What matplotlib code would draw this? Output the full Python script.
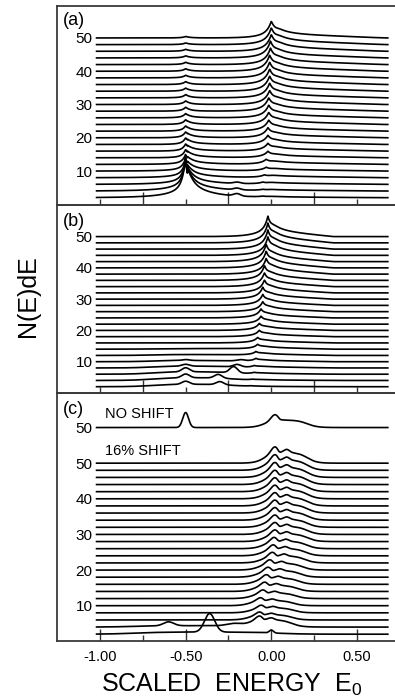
import numpy as np
import matplotlib
matplotlib.use("Agg")
import matplotlib.pyplot as plt

plt.rcParams['font.family'] = ['Liberation Sans', 'DejaVu Sans']
plt.rcParams['mathtext.fontset'] = 'custom'
plt.rcParams['mathtext.rm'] = 'Liberation Sans'
plt.rcParams['mathtext.it'] = 'Liberation Sans'
plt.rcParams['mathtext.default'] = 'regular'

# curve offsets (same for every panel), tick labels
offsets = list(range(2, 52, 2))
ytick_vals = [10, 20, 30, 40, 50]
xtick_vals = [-1.0, -0.5, 0.0, 0.5]
xtick_labels = ["-1.00", "-0.50", "0.00", "0.50"]
x_range = (-1.02, 0.68)

# ---- panel (a): peak near 0 grows, peak at -0.5 shrinks ----
a_zero_amp = [0.3, 0.4, 0.6, 0.8, 1.1, 1.5, 1.9, 2.3, 2.7, 3.0, 3.3, 3.6, 3.8,
              4.0, 4.2, 4.4, 4.5, 4.6, 4.7, 4.8, 4.9, 5.0, 5.0, 5.0, 5.0]
a_zero_pos = [-0.05, -0.05, -0.05, -0.04, -0.03, -0.03, -0.02, -0.02, -0.02, -0.02,
              -0.015, -0.015, -0.015, -0.015, -0.01, -0.01, -0.01, -0.01, -0.01,
              -0.01, -0.005, -0.005, 0.0, 0.0, 0.0]
a_shoulder = [0.2, 0.3, 0.4, 0.5, 0.5, 0.6, 0.6, 0.7, 0.7, 0.8, 0.8, 0.9, 0.9,
              1.0, 1.0, 1.0, 1.1, 1.1, 1.1, 1.2, 1.2, 1.2, 1.3, 1.3, 1.3]
a_half_amp = [10.5, 8.5, 6.5, 4.8, 3.6, 2.9, 2.5, 2.2, 2.0, 1.8, 1.6, 1.45, 1.3,
              1.2, 1.1, 1.0, 0.95, 0.9, 0.8, 0.75, 0.7, 0.65, 0.6, 0.5, 0.45]
a_tail_amp = [3.5, 2.5, 1.8, 1.3, 1.0, 0.8, 0.6, 0.5, 0.4, 0.3, 0.2, 0.15, 0.1,
              0, 0, 0, 0, 0, 0, 0, 0, 0, 0, 0, 0]
a_left_amp = [2.0, 1.5, 1.0, 0.6, 0.4, 0.2] + [0] * 19
a_bump_amp = [0.7, 0.5, 0.4] + [0] * 22   # small bump near -0.2

# ---- panel (b): single peak near 0 ----
b_main_amp = [0.2, 0.3, 0.5, 0.7, 1.0, 1.2, 1.5, 1.7, 2.0, 2.2, 2.5, 2.8, 3.1,
              3.4, 3.7, 4.0, 4.3, 4.6, 4.9, 5.2, 5.4, 5.7, 5.9, 6.1, 6.3]
b_main_pos = [-0.12, -0.11, -0.10, -0.10, -0.09, -0.09, -0.08, -0.08, -0.07, -0.07,
              -0.06, -0.06, -0.05, -0.05, -0.05, -0.04, -0.04, -0.04, -0.03, -0.03,
              -0.03, -0.02, -0.02, -0.02, -0.02]
b_shoulder = [0.1, 0.2, 0.3, 0.4, 0.4, 0.5, 0.6, 0.6, 0.7, 0.8, 0.8, 0.9, 1.0,
              1.1, 1.2, 1.3, 1.4, 1.5, 1.6, 1.7, 1.7, 1.8, 1.9, 2.0, 2.0]
b_half_amp = [1.0, 1.2, 1.3, 0.6, 0.3] + [0] * 20
b_bump_pos = [-0.30, -0.31, -0.22, -0.20, -0.18] + [-0.2] * 20
b_bump_amp = [1.0, 1.2, 2.0, 0.8, 0.4] + [0] * 20
b_hump_amp = [0.8, 0.9, 0.8, 0.6, 0.4, 0.3, 0.2] + [0] * 18

# ---- panel (c): 16% shift ----
c_amp = [0.0, 3.0, 2.4, 2.3, 2.4, 2.6, 2.8, 2.9, 3.0, 3.1, 3.2, 3.3, 3.4, 3.5,
         3.6, 3.7, 3.8, 3.9, 4.0, 4.1, 4.2, 4.3, 4.5, 4.7, 4.9]
c_shift = [0.0, -0.09, -0.09, -0.08, -0.085, -0.07, -0.06, -0.05, -0.04, -0.03,
           -0.015, -0.01, -0.005, 0.0, 0.0, 0.0, 0.0, 0.0, 0.0, 0.0, 0.0, 0.0,
           0.0, 0.0, 0.0]
c_side_pos = [-0.36, -0.60]        # extra peaks of the two lowest curves
c_side_amp = [5.2, 1.1]
c_low_amp = [0.6, 0.4]             # broad low hump of the two lowest curves
no_shift_offset = 60
no_shift_half_amp = 4.2
no_shift_amp = 3.85


def cusp(x, x0, wl, wr):
    d = x - x0
    return np.where(d < 0, np.exp(np.minimum(d, 0) / wl), np.exp(-np.maximum(d, 0) / wr))


def gauss(x, x0, s):
    return np.exp(-0.5 * ((x - x0) / s) ** 2)


def sig(z):
    return 1.0 / (1.0 + np.exp(-z))


def plateau(x, a, b, w):
    return sig((x - a) / w) * sig((b - x) / w)


def shoulder(x, start, end):
    lin = np.clip((end - x) / (end - start), 0, 1)
    return lin * sig((x - start) / 0.01)


def c_shape(x, sh):
    return (0.62 * plateau(x, -0.04 + sh, 0.21 + sh, 0.028)
            + 0.38 * gauss(x, 0.02 + sh, 0.022)
            + 0.18 * gauss(x, 0.09 + sh, 0.016)
            - 0.12 * gauss(x, 0.047 + sh, 0.01))


x = np.linspace(x_range[0], x_range[1], 800)

fig = plt.figure(figsize=(3.95, 6.98), dpi=100)
ax_a = fig.add_axes([0.1443, 0.7063, 0.8557, 0.2851])
ax_b = fig.add_axes([0.1443, 0.4370, 0.8557, 0.2693])
ax_c = fig.add_axes([0.1443, 0.0817, 0.8557, 0.3553])

lw = 1.2
col = "black"

# panel (a)
for i, off in enumerate(offsets):
    y = (a_zero_amp[i] * (0.55 * cusp(x, a_zero_pos[i], 0.022, 0.026)
                          + 0.45 * cusp(x, a_zero_pos[i], 0.07, 0.08))
         + a_shoulder[i] * shoulder(x, a_zero_pos[i] + 0.03, 0.66)
         + a_half_amp[i] * (0.7 * cusp(x, -0.5, 0.016, 0.022) + 0.3 * cusp(x, -0.5, 0.05, 0.06))
         + a_tail_amp[i] * np.where(x > -0.49, np.exp(-(x + 0.49) / 0.15), 0) * sig((x + 0.49) / 0.01)
         + a_left_amp[i] * np.where(x < -0.5, np.exp((x + 0.5) / 0.15), 0)
         + a_bump_amp[i] * gauss(x, -0.2, 0.02))
    ax_a.plot(x, off + y, color=col, lw=lw)

# panel (b)
for i, off in enumerate(offsets):
    y = (b_main_amp[i] * (0.5 * cusp(x, b_main_pos[i], 0.018, 0.018)
                          + 0.5 * cusp(x, b_main_pos[i], 0.07, 0.06))
         + b_shoulder[i] * shoulder(x, b_main_pos[i] + 0.02, 0.36)
         + b_half_amp[i] * gauss(x, -0.5, 0.022)
         + b_bump_amp[i] * gauss(x, b_bump_pos[i], 0.022)
         + b_hump_amp[i] * plateau(x, -0.7, -0.22, 0.06))
    ax_b.plot(x, off + y, color=col, lw=lw)

# panel (c)
for i, off in enumerate(offsets):
    y = c_amp[i] * c_shape(x, c_shift[i])
    if i < len(c_side_pos):
        y = y + c_side_amp[i] * gauss(x, c_side_pos[i], 0.03) + c_low_amp[i] * plateau(x, -0.8, 0.03, 0.08)
    if i == 0:
        y = y + 0.8 * gauss(x, 0.0, 0.012)
    if i == 1:
        y = y + 0.6 * gauss(x, -0.22, 0.04)
    ax_c.plot(x, off + y, color=col, lw=lw)

y_ns = no_shift_half_amp * gauss(x, -0.5, 0.017) + no_shift_amp * (
    0.55 * plateau(x, -0.04, 0.21, 0.03) + 0.45 * gauss(x, 0.02, 0.022)
    - 0.08 * gauss(x, 0.05, 0.01))
ax_c.plot(x, no_shift_offset + y_ns, color=col, lw=lw)

ax_c.text(-0.971, 62.65, "NO SHIFT", fontsize=10.5, va="baseline", ha="left")
ax_c.text(-0.971, 52.35, "16% SHIFT", fontsize=10.5, va="baseline", ha="left")

ylims = [(-0.2, 59.6), (0.0, 60.1), (0.1, 69.7)]
panel_tags = ["(a)", "(b)", "(c)"]
tag_y = [0.968, 0.96, 0.967]
for k, ax in enumerate([ax_a, ax_b, ax_c]):
    ax.set_xlim(-1.251, 0.722)
    ax.set_ylim(*ylims[k])
    ax.spines['right'].set_visible(False)
    for s in ['left', 'top', 'bottom']:
        ax.spines[s].set_color('#3a3a3a')
        ax.spines[s].set_linewidth(1.3)
    ax.set_xticks(xtick_vals)
    ax.set_xticks([-0.75, -0.25, 0.25], minor=True)
    if k == 2:
        ax.set_yticks(ytick_vals + [no_shift_offset])
        ax.set_yticklabels([str(v) for v in ytick_vals] + ["50"])
        ax.tick_params(axis='x', which='major', direction='in', length=9, width=1.0,
                       color='#333333', pad=6.5, labelsize=10.5)
        ax.tick_params(axis='x', which='minor', direction='in', length=4.5, width=1.0,
                       color='#333333')
        ax.set_xticklabels(xtick_labels)
    else:
        ax.set_yticks(ytick_vals)
        ax.set_yticklabels([str(v) for v in ytick_vals])
        ax.tick_params(axis='x', which='major', direction='in', length=4, width=1.0,
                       color='#333333', labelbottom=False)
        ax.tick_params(axis='x', which='minor', direction='in', length=9.5, width=1.0,
                       color='#333333')
    ax.tick_params(axis='y', length=0, pad=-25.5, labelsize=11)
    for lab in ax.get_yticklabels():
        lab.set_horizontalalignment('right')
    ax.text(0.018, tag_y[k], panel_tags[k], transform=ax.transAxes, fontsize=13,
            va='top', ha='left')
    ax.patch.set_alpha(0)

fig.text(231.5 / 395, 1 - 691.7 / 698, r"SCALED  ENERGY  E$_{0}$", fontsize=18,
         ha='center', va='baseline')
fig.text(27.5 / 395, 1 - 296 / 698, "N(E)dE", fontsize=18, rotation=90,
         ha='center', va='center')

fig.savefig("out.png", dpi=100)
